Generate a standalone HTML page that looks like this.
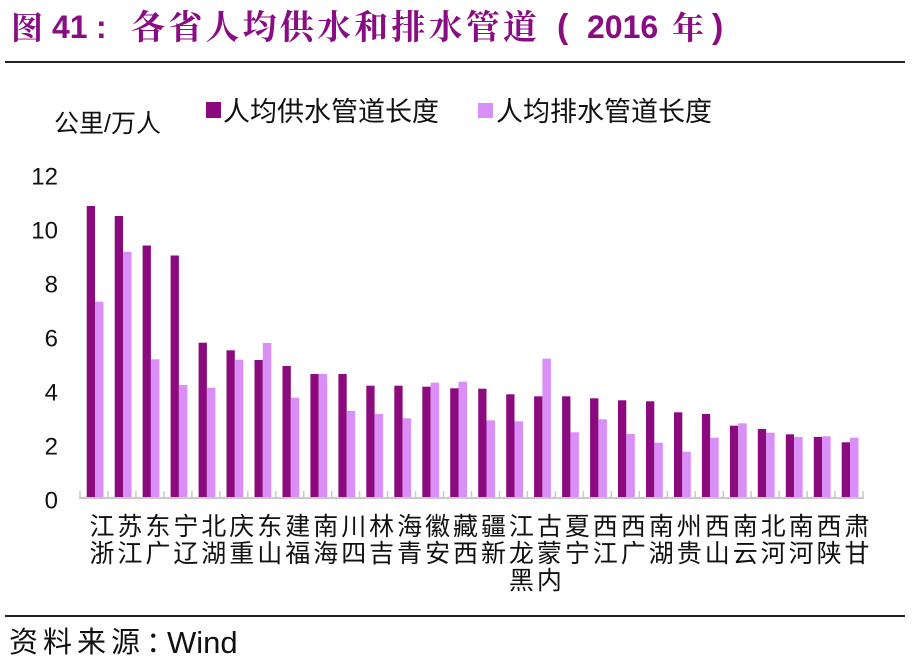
<!DOCTYPE html>
<html>
<head>
<meta charset="utf-8">
<style>
  html,body{margin:0;padding:0;background:#fff;}
  body{width:914px;height:664px;overflow:hidden;}
  svg{display:block;}
  .t{font-family:"Noto Serif CJK SC","Noto Sans CJK SC",serif;font-weight:700;fill:#8A0C82;}
  .tn{font-family:"Liberation Sans",sans-serif;font-weight:700;fill:#8A0C82;}
  .lg{font-family:"Liberation Sans","Noto Sans CJK SC",sans-serif;fill:#111;}
  .yl{font-family:"Liberation Sans",sans-serif;font-size:24px;fill:#111;}
  .xl{font-family:"Noto Sans CJK SC",sans-serif;font-size:25px;fill:#111;}
  .d{fill:#8B0A7D;}
  .l{fill:#DA8EF7;}
</style>
</head>
<body>
<svg width="914" height="664" viewBox="0 0 914 664" xmlns="http://www.w3.org/2000/svg">
  <rect width="914" height="664" fill="#fff"/>
  <!-- Title -->
  <text class="t" x="11" y="39" font-size="32">图</text>
  <text class="tn" x="52" y="38" font-size="32">41</text>
  <text class="tn" x="96" y="38" font-size="32">:</text>
  <text class="t" x="131" y="39" font-size="34" textLength="406" lengthAdjust="spacing">各省人均供水和排水管道</text>
  <text class="tn" x="557" y="38" font-size="34">(</text>
  <text class="tn" x="587" y="38" font-size="32">2016</text>
  <text class="t" x="672" y="39" font-size="32">年</text>
  <text class="tn" x="712" y="38" font-size="34">)</text>
  <line x1="5" y1="62" x2="905" y2="62" stroke="#222" stroke-width="2"/>

  <!-- Legend / unit -->
  <text class="lg" x="54" y="132" font-size="25">公里/万人</text>
  <rect x="206" y="102" width="15" height="16" fill="#8B0A7D"/>
  <text class="lg" x="223" y="121" font-size="27">人均供水管道长度</text>
  <rect x="478" y="103" width="15" height="15" fill="#DA8EF7"/>
  <text class="lg" x="496" y="121" font-size="27">人均排水管道长度</text>

  <!-- Y axis labels -->
  <text class="yl" x="58" y="184.6" text-anchor="end">12</text>
  <text class="yl" x="58" y="238.6" text-anchor="end">10</text>
  <text class="yl" x="58" y="292.6" text-anchor="end">8</text>
  <text class="yl" x="58" y="346.6" text-anchor="end">6</text>
  <text class="yl" x="58" y="400.6" text-anchor="end">4</text>
  <text class="yl" x="58" y="454.6" text-anchor="end">2</text>
  <text class="yl" x="58" y="508.6" text-anchor="end">0</text>

  <!-- Bars: dark -->
  <rect class="d" x="86.7" y="206" width="8.3" height="291"/>
  <rect class="d" x="114.7" y="216" width="8.3" height="281"/>
  <rect class="d" x="142.6" y="245.5" width="8.3" height="251.5"/>
  <rect class="d" x="170.6" y="255.5" width="8.3" height="241.5"/>
  <rect class="d" x="198.6" y="342.7" width="8.3" height="154.3"/>
  <rect class="d" x="226.5" y="350.3" width="8.3" height="146.7"/>
  <rect class="d" x="254.5" y="360" width="8.3" height="137"/>
  <rect class="d" x="282.5" y="366" width="8.3" height="131"/>
  <rect class="d" x="310.4" y="374" width="8.3" height="123"/>
  <rect class="d" x="338.4" y="374" width="8.3" height="123"/>
  <rect class="d" x="366.3" y="385.7" width="8.3" height="111.3"/>
  <rect class="d" x="394.3" y="385.7" width="8.3" height="111.3"/>
  <rect class="d" x="422.3" y="386.7" width="8.3" height="110.3"/>
  <rect class="d" x="450.2" y="388.3" width="8.3" height="108.7"/>
  <rect class="d" x="478.2" y="388.7" width="8.3" height="108.3"/>
  <rect class="d" x="506.2" y="394.3" width="8.3" height="102.7"/>
  <rect class="d" x="534.1" y="396.3" width="8.3" height="100.7"/>
  <rect class="d" x="562.1" y="396.3" width="8.3" height="100.7"/>
  <rect class="d" x="590.1" y="398.3" width="8.3" height="98.7"/>
  <rect class="d" x="618.0" y="400.3" width="8.3" height="96.7"/>
  <rect class="d" x="646.0" y="401.3" width="8.3" height="95.7"/>
  <rect class="d" x="674.0" y="412.3" width="8.3" height="84.7"/>
  <rect class="d" x="701.9" y="414" width="8.3" height="83"/>
  <rect class="d" x="729.9" y="425.7" width="8.3" height="71.3"/>
  <rect class="d" x="757.8" y="429" width="8.3" height="68"/>
  <rect class="d" x="785.8" y="434.3" width="8.3" height="62.7"/>
  <rect class="d" x="813.8" y="437" width="8.3" height="60"/>
  <rect class="d" x="841.7" y="442.3" width="8.3" height="54.7"/>

  <!-- Bars: light -->
  <rect class="l" x="95.0" y="301.7" width="8.5" height="195.3"/>
  <rect class="l" x="123.0" y="252" width="8.5" height="245"/>
  <rect class="l" x="150.9" y="359.3" width="8.5" height="137.7"/>
  <rect class="l" x="178.9" y="385" width="8.5" height="112"/>
  <rect class="l" x="206.9" y="387.7" width="8.5" height="109.3"/>
  <rect class="l" x="234.8" y="359.7" width="8.5" height="137.3"/>
  <rect class="l" x="262.8" y="343" width="8.5" height="154"/>
  <rect class="l" x="290.8" y="397.7" width="8.5" height="99.3"/>
  <rect class="l" x="318.7" y="374" width="8.5" height="123"/>
  <rect class="l" x="346.7" y="411" width="8.5" height="86"/>
  <rect class="l" x="374.6" y="414" width="8.5" height="83"/>
  <rect class="l" x="402.6" y="418.3" width="8.5" height="78.7"/>
  <rect class="l" x="430.6" y="382.7" width="8.5" height="114.3"/>
  <rect class="l" x="458.5" y="381.7" width="8.5" height="115.3"/>
  <rect class="l" x="486.5" y="420.3" width="8.5" height="76.7"/>
  <rect class="l" x="514.5" y="421.3" width="8.5" height="75.7"/>
  <rect class="l" x="542.4" y="358.7" width="8.5" height="138.3"/>
  <rect class="l" x="570.4" y="432.3" width="8.5" height="64.7"/>
  <rect class="l" x="598.4" y="419.3" width="8.5" height="77.7"/>
  <rect class="l" x="626.3" y="434" width="8.5" height="63"/>
  <rect class="l" x="654.3" y="442.7" width="8.5" height="54.3"/>
  <rect class="l" x="682.3" y="451.7" width="8.5" height="45.3"/>
  <rect class="l" x="710.2" y="437.7" width="8.5" height="59.3"/>
  <rect class="l" x="738.2" y="423.3" width="8.5" height="73.7"/>
  <rect class="l" x="766.1" y="432.7" width="8.5" height="64.3"/>
  <rect class="l" x="794.1" y="437" width="8.5" height="60"/>
  <rect class="l" x="822.1" y="436.3" width="8.5" height="60.7"/>
  <rect class="l" x="850.0" y="437.7" width="8.5" height="59.3"/>

  <!-- X axis -->
  <line x1="79" y1="498" x2="864" y2="498" stroke="#c9c9c9" stroke-width="2"/>
  <g stroke="#c9c9c9" stroke-width="1.5">
    <line x1="80.0" y1="491" x2="80.0" y2="498"/>
    <line x1="108.0" y1="491" x2="108.0" y2="498"/>
    <line x1="135.9" y1="491" x2="135.9" y2="498"/>
    <line x1="163.9" y1="491" x2="163.9" y2="498"/>
    <line x1="191.9" y1="491" x2="191.9" y2="498"/>
    <line x1="219.8" y1="491" x2="219.8" y2="498"/>
    <line x1="247.8" y1="491" x2="247.8" y2="498"/>
    <line x1="275.8" y1="491" x2="275.8" y2="498"/>
    <line x1="303.7" y1="491" x2="303.7" y2="498"/>
    <line x1="331.7" y1="491" x2="331.7" y2="498"/>
    <line x1="359.6" y1="491" x2="359.6" y2="498"/>
    <line x1="387.6" y1="491" x2="387.6" y2="498"/>
    <line x1="415.6" y1="491" x2="415.6" y2="498"/>
    <line x1="443.5" y1="491" x2="443.5" y2="498"/>
    <line x1="471.5" y1="491" x2="471.5" y2="498"/>
    <line x1="499.5" y1="491" x2="499.5" y2="498"/>
    <line x1="527.4" y1="491" x2="527.4" y2="498"/>
    <line x1="555.4" y1="491" x2="555.4" y2="498"/>
    <line x1="583.4" y1="491" x2="583.4" y2="498"/>
    <line x1="611.3" y1="491" x2="611.3" y2="498"/>
    <line x1="639.3" y1="491" x2="639.3" y2="498"/>
    <line x1="667.3" y1="491" x2="667.3" y2="498"/>
    <line x1="695.2" y1="491" x2="695.2" y2="498"/>
    <line x1="723.2" y1="491" x2="723.2" y2="498"/>
    <line x1="751.1" y1="491" x2="751.1" y2="498"/>
    <line x1="779.1" y1="491" x2="779.1" y2="498"/>
    <line x1="807.1" y1="491" x2="807.1" y2="498"/>
    <line x1="835.0" y1="491" x2="835.0" y2="498"/>
    <line x1="863.0" y1="491" x2="863.0" y2="498"/>
  </g>

  <!-- X labels (stacked, last char on top) -->
  <g class="xl" text-anchor="middle">
    <text x="102.0" y="535">江</text><text x="102.0" y="562">浙</text>
    <text x="129.9" y="535">苏</text><text x="129.9" y="562">江</text>
    <text x="157.9" y="535">东</text><text x="157.9" y="562">广</text>
    <text x="185.9" y="535">宁</text><text x="185.9" y="562">辽</text>
    <text x="213.8" y="535">北</text><text x="213.8" y="562">湖</text>
    <text x="241.8" y="535">庆</text><text x="241.8" y="562">重</text>
    <text x="269.8" y="535">东</text><text x="269.8" y="562">山</text>
    <text x="297.7" y="535">建</text><text x="297.7" y="562">福</text>
    <text x="325.7" y="535">南</text><text x="325.7" y="562">海</text>
    <text x="353.7" y="535">川</text><text x="353.7" y="562">四</text>
    <text x="381.6" y="535">林</text><text x="381.6" y="562">吉</text>
    <text x="409.6" y="535">海</text><text x="409.6" y="562">青</text>
    <text x="437.6" y="535">徽</text><text x="437.6" y="562">安</text>
    <text x="465.5" y="535">藏</text><text x="465.5" y="562">西</text>
    <text x="493.5" y="535">疆</text><text x="493.5" y="562">新</text>
    <text x="521.4" y="535">江</text><text x="521.4" y="562">龙</text><text x="521.4" y="589">黑</text>
    <text x="549.4" y="535">古</text><text x="549.4" y="562">蒙</text><text x="549.4" y="589">内</text>
    <text x="577.4" y="535">夏</text><text x="577.4" y="562">宁</text>
    <text x="605.3" y="535">西</text><text x="605.3" y="562">江</text>
    <text x="633.3" y="535">西</text><text x="633.3" y="562">广</text>
    <text x="661.3" y="535">南</text><text x="661.3" y="562">湖</text>
    <text x="689.2" y="535">州</text><text x="689.2" y="562">贵</text>
    <text x="717.2" y="535">西</text><text x="717.2" y="562">山</text>
    <text x="745.2" y="535">南</text><text x="745.2" y="562">云</text>
    <text x="773.1" y="535">北</text><text x="773.1" y="562">河</text>
    <text x="801.1" y="535">南</text><text x="801.1" y="562">河</text>
    <text x="829.1" y="535">西</text><text x="829.1" y="562">陕</text>
    <text x="857.0" y="535">肃</text><text x="857.0" y="562">甘</text>
  </g>

  <!-- Footer -->
  <line x1="5" y1="616" x2="905" y2="616" stroke="#222" stroke-width="2"/>
  <text x="9" y="652" font-size="29" letter-spacing="5" font-family="Noto Sans CJK SC, sans-serif" fill="#111">资料来源</text>
  <text x="146" y="652" font-size="29" font-family="Noto Sans CJK SC, sans-serif" fill="#111">：</text>
  <text x="167" y="653" font-size="31" font-family="Liberation Sans, sans-serif" fill="#111">Wind</text>
</svg>
</body>
</html>
